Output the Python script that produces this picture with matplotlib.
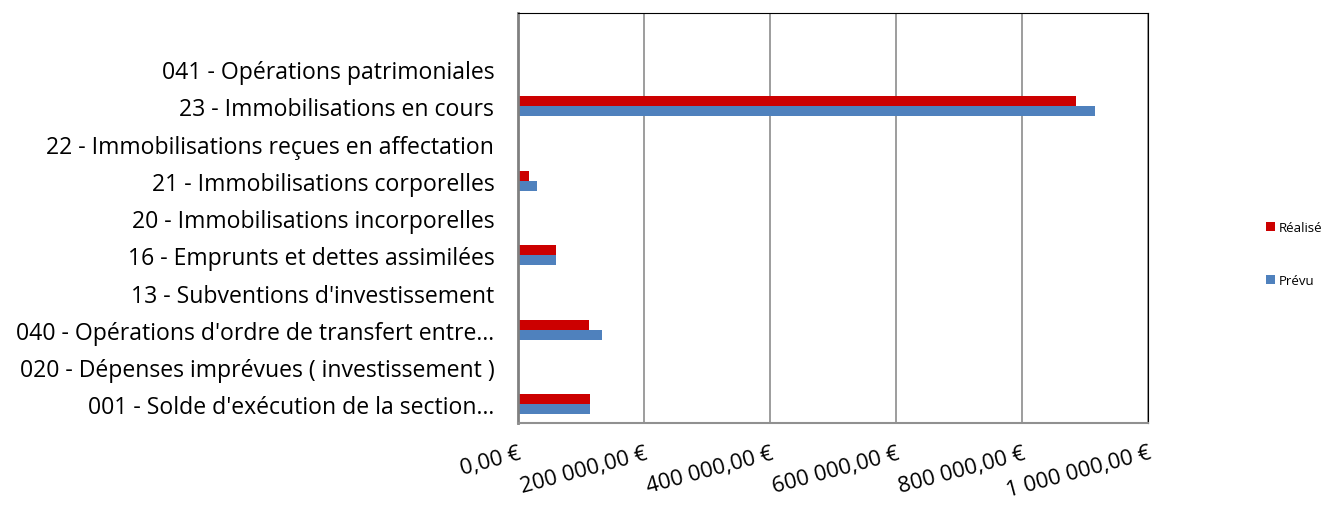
import matplotlib.pyplot as plt
import numpy as np
from matplotlib.ticker import FuncFormatter

# categories bottom -> top (top one is blank in the source chart)
categories = [
    "001 - Solde d'exécution de la section…",
    "020 - Dépenses imprévues ( investissement )",
    "040 - Opérations d'ordre de transfert entre…",
    "13 - Subventions d'investissement",
    "16 - Emprunts et dettes assimilées",
    "20 - Immobilisations incorporelles",
    "21 - Immobilisations corporelles",
    "22 - Immobilisations reçues en affectation",
    "23 - Immobilisations en cours",
    "041 - Opérations patrimoniales",
    "",
]
realise = [114000, 0, 113000, 0, 60000, 0, 17500, 0, 885500, 0, 0]
prevu = [114000, 0, 134000, 0, 60000, 0, 29500, 0, 916000, 0, 0]
xticks = [0, 200000, 400000, 600000, 800000, 1000000]

RED = '#cc0000'
BLUE = '#4f81bd'


def euro(v, pos=None):
    s = f'{v:,.2f}'.replace(',', ' ').replace('.', ',')
    return s + ' €'


fig = plt.figure(figsize=(13.28, 5.06), dpi=100)
ax = fig.add_axes([0.390, 0.162, 0.4745, 0.810])

y = np.arange(len(categories))
h = 0.27
ax.barh(y + h / 2, realise, height=h, color=RED, label='Réalisé')
ax.barh(y - h / 2, prevu, height=h, color=BLUE, label='Prévu')

ax.set_ylim(-0.5, len(categories) - 0.5)
ax.set_xlim(0, 1000000)
ax.set_xticks(xticks)
ax.xaxis.set_major_formatter(FuncFormatter(euro))
ax.set_yticks(y)
ax.set_yticklabels(categories, fontsize=16.6, fontfamily='Open Sans')
ax.tick_params(axis='y', length=0, pad=17)
ax.tick_params(axis='x', length=0, pad=14)
for lab in ax.get_xticklabels():
    lab.set_rotation(15)
    lab.set_ha('right')
    lab.set_rotation_mode('anchor')
    lab.set_fontsize(15.8)
    lab.set_fontfamily('Open Sans')

ax.grid(axis='x', color='#8c8c8c', linewidth=1.2)
ax.set_axisbelow(True)
ax.spines['left'].set_color('#808080')
ax.spines['left'].set_linewidth(2)
ax.spines['bottom'].set_color('#909090')
ax.spines['bottom'].set_linewidth(1.5)
ax.spines['top'].set_color('black')
ax.spines['top'].set_linewidth(0.8)
ax.spines['right'].set_color('black')
ax.spines['right'].set_linewidth(0.8)

fig.legend(loc='center left', bbox_to_anchor=(0.944, 0.496), frameon=False,
           labelspacing=3.0, handlelength=0.7, handleheight=0.7,
           handletextpad=0.3, prop={'family': 'Open Sans', 'size': 9.5})

fig.savefig('out.png', dpi=100)
